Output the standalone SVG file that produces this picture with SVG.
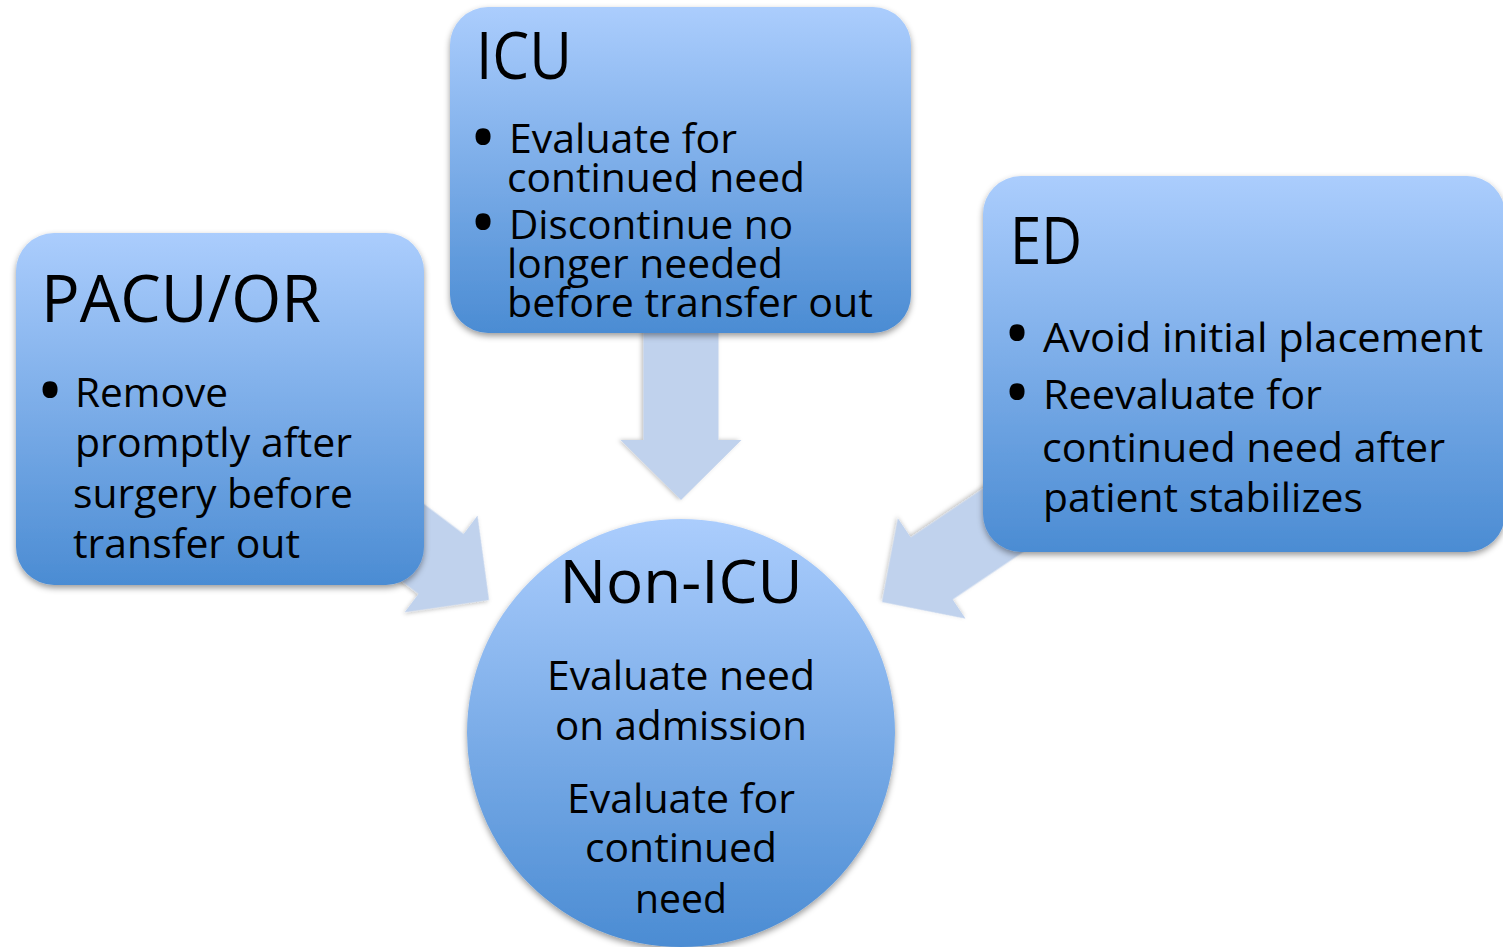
<svg xmlns="http://www.w3.org/2000/svg" width="1503" height="947" viewBox="0 0 1503 947">
<defs>
<linearGradient id="boxGrad" x1="0" y1="0" x2="0" y2="1">
<stop offset="0" stop-color="#abcdfd"/>
<stop offset="1" stop-color="#4b8cd3"/>
</linearGradient>
<filter id="shadow" x="-10%" y="-10%" width="120%" height="125%">
<feDropShadow dx="0" dy="3" stdDeviation="3" flood-color="#000" flood-opacity="0.4"/>
</filter>
<filter id="ashadow" x="-20%" y="-20%" width="140%" height="140%">
<feDropShadow dx="0" dy="2" stdDeviation="2" flood-color="#000" flood-opacity="0.25"/>
</filter>
<polygon id="arrow" points="0,0 -60,-60.5 -60,-37.5 -200,-37.5 -200,37.5 -60,37.5 -60,60.5"/>
</defs>
<style>
.node { fill: url(#boxGrad); filter: url(#shadow); }
.arr { fill: #c0d2ed; filter: url(#ashadow); }
text { font-family: "Open Sans", "Liberation Sans", sans-serif; fill: #000; }
.title { font-size: 65px; }
.title2 { font-size: 61px; }
.body { font-size: 41px; }
.bul { font-size: 72px; text-anchor: middle; }
.c { text-anchor: middle; }
</style>

<g id="connectors">
<use href="#arrow" class="arr" transform="translate(681,500) rotate(90)"/>
<use href="#arrow" class="arr" transform="translate(489,600) rotate(37)"/>
<use href="#arrow" class="arr" transform="translate(882,602) rotate(146)"/>
</g>

<g id="node-pacu">
<rect class="node" x="16" y="233" width="408" height="352" rx="38" ry="38"/>
<text class="title" x="41" y="322" textLength="280" lengthAdjust="spacingAndGlyphs">PACU/OR</text>
<text class="bul" x="50" y="416">•</text>
<text class="body" x="75" y="407" textLength="153" lengthAdjust="spacingAndGlyphs">Remove</text>
<text class="body" x="75" y="457" textLength="277" lengthAdjust="spacingAndGlyphs">promptly after</text>
<text class="body" x="73" y="508" textLength="280" lengthAdjust="spacingAndGlyphs">surgery before</text>
<text class="body" x="73" y="558" textLength="227" lengthAdjust="spacingAndGlyphs">transfer out</text>
</g>

<g id="node-icu">
<rect class="node" x="450" y="7" width="461" height="326" rx="38" ry="38"/>
<text class="title" x="476" y="79" textLength="96" lengthAdjust="spacingAndGlyphs">ICU</text>
<text class="bul" x="483" y="163">•</text>
<text class="body" x="509" y="153" textLength="228" lengthAdjust="spacingAndGlyphs">Evaluate for</text>
<text class="body" x="507" y="192" textLength="298" lengthAdjust="spacingAndGlyphs">continued need</text>
<text class="bul" x="483" y="248">•</text>
<text class="body" x="509" y="239" textLength="284" lengthAdjust="spacingAndGlyphs">Discontinue no</text>
<text class="body" x="507" y="278" textLength="276" lengthAdjust="spacingAndGlyphs">longer needed</text>
<text class="body" x="507" y="317" textLength="366" lengthAdjust="spacingAndGlyphs">before transfer out</text>
</g>

<g id="node-ed">
<rect class="node" x="983" y="176" width="522" height="376" rx="38" ry="38"/>
<text class="title" x="1010" y="264" textLength="72" lengthAdjust="spacingAndGlyphs">ED</text>
<text class="bul" x="1017" y="359">•</text>
<text class="body" x="1043" y="352" textLength="440" lengthAdjust="spacingAndGlyphs">Avoid initial placement</text>
<text class="bul" x="1017" y="418">•</text>
<text class="body" x="1043" y="409" textLength="279" lengthAdjust="spacingAndGlyphs">Reevaluate for</text>
<text class="body" x="1042" y="462" textLength="403" lengthAdjust="spacingAndGlyphs">continued need after</text>
<text class="body" x="1043" y="512" textLength="320" lengthAdjust="spacingAndGlyphs">patient stabilizes</text>
</g>

<g id="node-nonicu">
<circle class="node" cx="681" cy="733" r="214"/>
<text class="title2 c" x="681" y="603" textLength="243" lengthAdjust="spacingAndGlyphs">Non-ICU</text>
<text class="body c" x="681" y="690" textLength="268" lengthAdjust="spacingAndGlyphs">Evaluate need</text>
<text class="body c" x="681" y="740" textLength="252" lengthAdjust="spacingAndGlyphs">on admission</text>
<text class="body c" x="681" y="813" textLength="228" lengthAdjust="spacingAndGlyphs">Evaluate for</text>
<text class="body c" x="681" y="862" textLength="192" lengthAdjust="spacingAndGlyphs">continued</text>
<text class="body c" x="681" y="913" textLength="92" lengthAdjust="spacingAndGlyphs">need</text>
</g>
</svg>
